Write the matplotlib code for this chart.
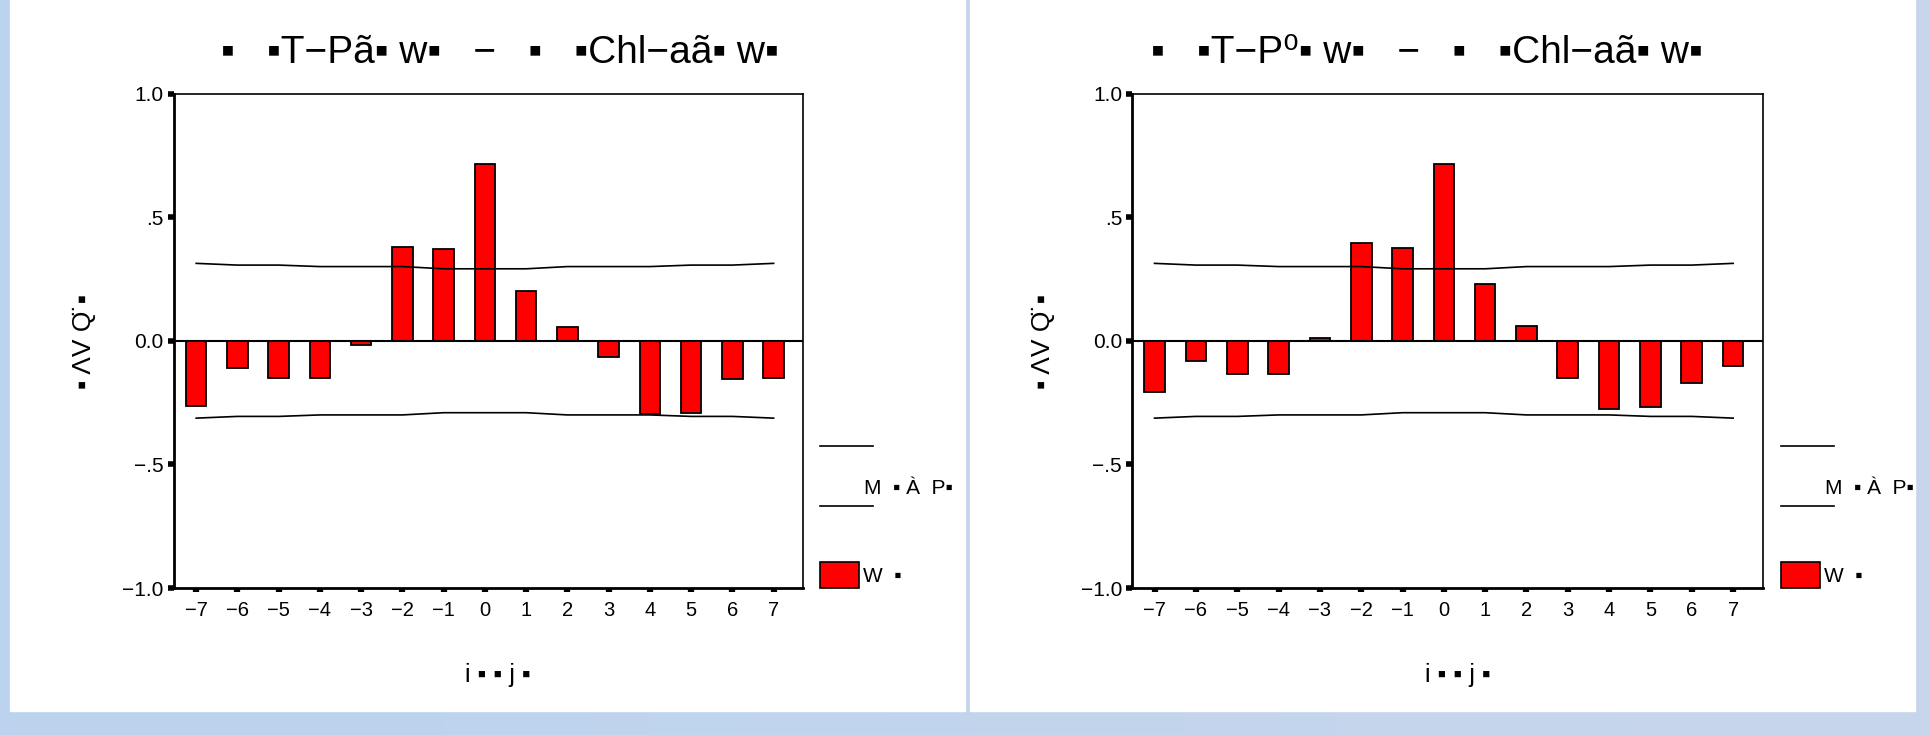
import numpy as np
import matplotlib
matplotlib.use("Agg")
import matplotlib.pyplot as plt
from matplotlib.lines import Line2D
from matplotlib.patches import Rectangle

plt.rcParams['font.family'] = ['Liberation Sans', 'DejaVu Sans']

# 数据
lags = [-7, -6, -5, -4, -3, -2, -1, 0, 1, 2, 3, 4, 5, 6, 7]
ccf_left = [-0.262, -0.111, -0.149, -0.149, -0.019, 0.381, 0.372, 0.713,
            0.200, 0.057, -0.065, -0.297, -0.291, -0.155, -0.149]
ccf_right = [-0.208, -0.080, -0.134, -0.134, 0.013, 0.397, 0.374, 0.713,
             0.231, 0.058, -0.149, -0.275, -0.267, -0.170, -0.103]
conf_upper = [0.313, 0.306, 0.306, 0.300, 0.300, 0.300, 0.291, 0.291,
              0.291, 0.300, 0.300, 0.300, 0.306, 0.306, 0.313]
conf_lower = [-0.313, -0.306, -0.306, -0.300, -0.300, -0.300, -0.291, -0.291,
              -0.291, -0.300, -0.300, -0.300, -0.306, -0.306, -0.313]
yticks = [-1.0, -0.5, 0.0, 0.5, 1.0]
ytick_labels = ['−1.0', '−.5', '0.0', '.5', '1.0']
xtick_labels = ['−7', '−6', '−5', '−4', '−3', '−2', '−1', '0', '1', '2', '3', '4', '5', '6', '7']

title_left = '▪   ▪T−Pã▪ w▪   −   ▪   ▪Chl−aã▪ w▪'
title_right = '▪   ▪T−P⁰▪ w▪   −   ▪   ▪Chl−aã▪ w▪'
ylabel_txt = '▪ ΛV Q̈ ▪'
xlabel_txt = 'i ▪ ▪ j ▪'
leg_conf = 'M  ▪ À  P▪'
leg_coef = 'W  ▪'

W, H = 1929, 735
fig = plt.figure(figsize=(W / 100, H / 100), dpi=100)


def fx(x):
    return x / W


def fy(y):
    return 1 - y / H


# 背景
bg = fig.add_axes([0, 0, 1, 1], zorder=-10)
grad = np.linspace(0, 1, 256)[None, :, None]
c0 = np.array([187, 211, 238]) / 255
c1 = np.array([200, 214, 236]) / 255
bg.imshow(c0 + (c1 - c0) * grad, aspect='auto', extent=[0, 1, 0, 1])
bg.set_xlim(0, 1)
bg.set_ylim(0, 1)
bg.axis('off')
bg.add_patch(Rectangle((fx(10), fy(711)), fx(965 - 10), 711 / H, color='white'))
bg.add_patch(Rectangle((fx(970), fy(711)), fx(1915 - 970), 711 / H, color='white'))


def draw_panel(ax_left, ax_right, ccf, title, title_x, ylab_x, xlab_x, leg_x, leg_tx):
    ax = fig.add_axes([fx(ax_left), fy(588), fx(ax_right - ax_left), (588 - 93.5) / H])
    ax.bar(lags, ccf, width=0.5, color='#ff0000', edgecolor='black', linewidth=1.3, zorder=3)
    ax.plot(lags, conf_upper, color='black', lw=1.2, zorder=4)
    ax.plot(lags, conf_lower, color='black', lw=1.2, zorder=4)
    ax.axhline(0, color='black', lw=1.5, zorder=5)
    ax.set_xlim(-7.55, 7.72)
    ax.set_ylim(-1.0, 1.0)
    ax.set_yticks(yticks)
    ax.set_yticklabels(ytick_labels, fontsize=15)
    ax.set_xticks(lags)
    ax.set_xticklabels(xtick_labels, fontsize=14.5)
    ax.tick_params(axis='y', direction='out', length=4, width=4, pad=3)
    ax.tick_params(axis='x', direction='out', length=3, width=4.5, pad=6)
    ax.spines['left'].set_linewidth(2)
    ax.spines['bottom'].set_linewidth(2)
    ax.spines['top'].set_linewidth(1.2)
    ax.spines['right'].set_linewidth(1.2)

    fig.text(fx(title_x), fy(53), title, fontsize=28, ha='center', va='center')
    fig.text(fx(ylab_x), fy(341), ylabel_txt, fontsize=19, rotation=90, ha='center', va='center')
    fig.text(fx(xlab_x), fy(675), xlabel_txt, fontsize=18, ha='center', va='center')

    # 图例
    for yy in (446, 506):
        fig.add_artist(Line2D([fx(leg_x), fx(leg_x + 53)], [fy(yy), fy(yy)], color='black', lw=1.2))
    fig.text(fx(leg_tx), fy(488), leg_conf, fontsize=15, ha='left', va='center')
    fig.add_artist(Rectangle((fx(leg_x), fy(588)), fx(39), 26 / H, facecolor='#ff0000',
                             edgecolor='black', lw=1.2, transform=fig.transFigure))
    fig.text(fx(leg_x + 43), fy(576), leg_coef, fontsize=15, ha='left', va='center')


draw_panel(173.5, 803.3, ccf_left, title_left, 500, 84, 498, 820, 864)
draw_panel(1131.8, 1762.9, ccf_right, title_right, 1427, 1043, 1458, 1781, 1825)

fig.savefig('out.png', dpi=100)
